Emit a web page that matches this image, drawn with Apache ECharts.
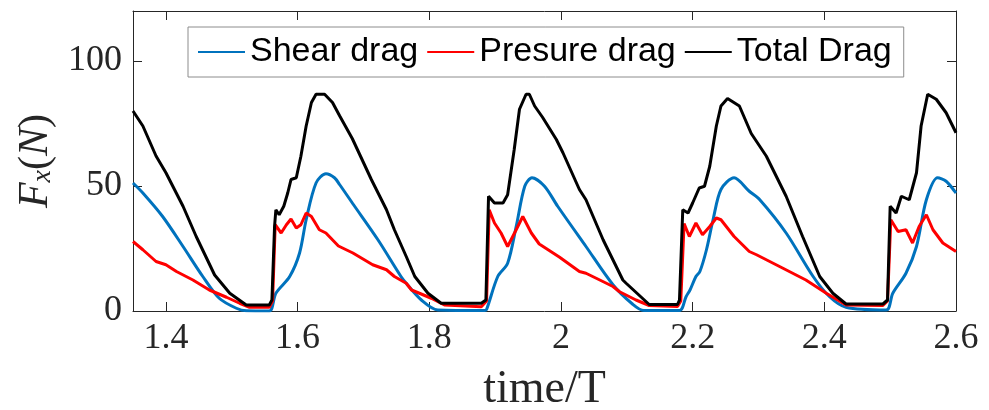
<!DOCTYPE html>
<html>
<head>
<meta charset="utf-8">
<script src="https://cdn.jsdelivr.net/npm/echarts@6/dist/echarts.min.js"></script>
<style>
  html, body { margin: 0; padding: 0; background: #fff; }
  #chart { width: 989px; height: 410px; }
</style>
</head>
<body>
<div id="chart"></div>
<script>
// tick labels (x ticks come from the axis itself: 0.2 steps, 1.4 ... 2.6)
var yTicks = [0, 50, 100];

// Shear drag (time/T, N)
var shearT = [1.350, 1.365, 1.395, 1.426, 1.456, 1.481, 1.507, 1.522, 1.557, 1.567, 1.588, 1.603, 1.613, 1.628, 1.643, 1.656, 1.664, 1.685, 1.722, 1.757, 1.765, 1.788, 1.813, 1.884, 1.887, 1.904, 1.919, 1.932, 1.945, 1.956, 1.975, 1.995, 2.038, 2.079, 2.109, 2.126, 2.180, 2.190, 2.196, 2.205, 2.211, 2.221, 2.231, 2.243, 2.263, 2.286, 2.302, 2.342, 2.383, 2.408, 2.433, 2.494, 2.504, 2.524, 2.540, 2.555, 2.572, 2.585, 2.600];
var shearF = [51.2, 47.2, 37.8, 25.8, 13.8, 5.1, 1.1, 0.1, 0.0, 7.1, 13.8, 23.2, 36.5, 51.2, 54.9, 53.3, 50.5, 42.5, 28.5, 13.8, 11.1, 4.4, 0.4, 0.2, 0.6, 13.8, 19.1, 33.8, 49.9, 53.3, 49.9, 41.9, 25.8, 10.5, 2.7, 0.2, 0.2, 5.7, 8.4, 13.8, 15.8, 24.5, 36.5, 48.6, 53.3, 47.9, 44.5, 31.2, 13.8, 5.7, 1.5, 0.4, 7.1, 15.1, 25.8, 44.5, 53.3, 51.9, 47.2];

// Presure drag
var presT = [1.350, 1.365, 1.385, 1.400, 1.416, 1.441, 1.466, 1.492, 1.512, 1.527, 1.557, 1.562, 1.566, 1.575, 1.583, 1.590, 1.598, 1.605, 1.613, 1.621, 1.633, 1.643, 1.662, 1.684, 1.714, 1.735, 1.747, 1.765, 1.773, 1.785, 1.803, 1.823, 1.879, 1.887, 1.891, 1.899, 1.909, 1.919, 1.932, 1.942, 1.955, 1.967, 1.998, 2.028, 2.038, 2.059, 2.079, 2.089, 2.114, 2.134, 2.177, 2.182, 2.187, 2.195, 2.200, 2.205, 2.215, 2.226, 2.236, 2.243, 2.263, 2.286, 2.297, 2.332, 2.372, 2.403, 2.433, 2.489, 2.496, 2.501, 2.512, 2.524, 2.534, 2.544, 2.555, 2.565, 2.580, 2.600];
var presF = [27.8, 24.5, 19.8, 18.5, 15.8, 12.4, 8.4, 5.5, 3.1, 1.5, 1.5, 4.0, 34.5, 31.2, 34.5, 36.8, 33.2, 34.5, 39.2, 37.8, 32.5, 31.2, 26.0, 23.2, 18.5, 16.5, 13.8, 11.1, 8.4, 7.1, 5.1, 2.4, 1.7, 4.0, 40.5, 35.2, 31.2, 25.8, 32.5, 37.8, 31.2, 26.8, 21.5, 15.8, 15.1, 12.4, 9.8, 7.7, 4.4, 2.2, 1.8, 4.0, 35.0, 29.8, 32.5, 35.2, 30.5, 33.8, 37.2, 36.5, 29.8, 23.8, 22.5, 17.8, 12.4, 7.1, 2.4, 2.2, 4.0, 36.5, 31.8, 32.5, 27.2, 33.8, 38.5, 32.5, 27.2, 23.8];

// Total Drag
var totalT = [1.350, 1.365, 1.385, 1.400, 1.426, 1.446, 1.474, 1.497, 1.522, 1.557, 1.561, 1.565, 1.567, 1.572, 1.579, 1.585, 1.590, 1.598, 1.605, 1.613, 1.621, 1.628, 1.641, 1.653, 1.664, 1.683, 1.712, 1.735, 1.747, 1.765, 1.778, 1.798, 1.818, 1.879, 1.886, 1.890, 1.899, 1.912, 1.919, 1.929, 1.937, 1.947, 1.952, 1.960, 1.972, 1.993, 2.003, 2.028, 2.038, 2.064, 2.069, 2.094, 2.099, 2.134, 2.177, 2.180, 2.185, 2.193, 2.200, 2.210, 2.218, 2.226, 2.236, 2.243, 2.253, 2.271, 2.289, 2.312, 2.342, 2.367, 2.393, 2.413, 2.433, 2.489, 2.496, 2.500, 2.509, 2.517, 2.529, 2.540, 2.547, 2.557, 2.570, 2.585, 2.600];
var totalF = [80.0, 74.0, 62.0, 55.3, 41.9, 29.8, 14.4, 7.1, 2.4, 2.4, 4.4, 33.8, 40.5, 38.5, 41.9, 47.2, 52.6, 53.3, 61.9, 74.0, 83.4, 86.7, 86.7, 83.4, 78.0, 69.0, 52.6, 40.5, 32.5, 21.8, 13.8, 7.1, 3.1, 3.1, 4.4, 45.9, 43.2, 43.2, 46.5, 64.6, 80.7, 86.7, 86.7, 82.0, 77.5, 68.6, 63.3, 48.6, 44.5, 28.5, 25.8, 12.4, 11.1, 2.6, 2.6, 4.4, 40.5, 39.2, 43.2, 49.2, 49.9, 57.9, 74.0, 82.0, 85.0, 82.0, 71.0, 61.9, 45.9, 29.8, 13.8, 7.1, 2.8, 2.8, 4.4, 41.9, 39.2, 45.9, 44.5, 55.3, 74.0, 86.7, 84.7, 79.3, 71.3];

function pairs(t, f) {
  return t.map(function (v, i) { return [v, f[i]]; });
}

var axisColor = '#262626';
var serif = '"Liberation Serif", "DejaVu Serif", serif';

function tickStyle(values) {
  var t = { show: true, inside: true, length: 9, lineStyle: { color: axisColor, width: 1 } };
  if (values) t.customValues = values;
  return t;
}

var chart = echarts.init(document.getElementById('chart'));
chart.setOption({
  animation: false,
  backgroundColor: '#fff',
  grid: { left: 133, right: 33, top: 11, bottom: 99, outerBoundsMode: 'none' },
  legend: {
    left: 188,
    top: 27,
    padding: [8, 12, 8, 10],
    itemGap: 9,
    itemWidth: 47,
    itemHeight: 2,
    icon: 'rect',
    borderColor: '#8c8c8c',
    borderWidth: 1,
    backgroundColor: '#fff',
    textStyle: { fontFamily: '"Liberation Sans", Arial, sans-serif', fontSize: 34, color: '#000' },
    data: ['Shear drag', 'Presure drag', 'Total Drag']
  },
  xAxis: [
    {
      type: 'value',
      min: 1.35,
      max: 2.6,
      splitNumber: 6,
      name: 'time/T',
      nameLocation: 'middle',
      nameGap: 56,
      nameTextStyle: { fontFamily: serif, fontSize: 46, color: axisColor },
      axisLine: { show: true, onZero: false, lineStyle: { color: axisColor, width: 1 } },
      axisTick: tickStyle(),
      axisLabel: {
        showMinLabel: false,
        margin: 10,
        fontFamily: serif,
        fontSize: 36,
        color: axisColor,
        formatter: function (v) { return String(+v.toFixed(1)); }
      },
      splitLine: { show: false }
    },
    {
      type: 'value',
      position: 'top',
      min: 1.35,
      max: 2.6,
      splitNumber: 6,
      axisLine: { show: true, onZero: false, lineStyle: { color: axisColor, width: 1 } },
      axisTick: tickStyle(),
      axisLabel: { show: false },
      splitLine: { show: false }
    }
  ],
  yAxis: [
    {
      type: 'value',
      min: 0,
      max: 120,
      name: '{i|F}{s|x}{n|(}{i|N}{n|)}',
      nameLocation: 'middle',
      nameGap: 76,
      nameTextStyle: {
        color: axisColor,
        rich: {
          i: { fontFamily: serif, fontStyle: 'italic', fontSize: 42, lineHeight: 42, color: axisColor },
          n: { fontFamily: serif, fontSize: 42, lineHeight: 42, color: axisColor },
          s: { fontFamily: serif, fontStyle: 'italic', fontSize: 28, lineHeight: 4, verticalAlign: 'bottom', color: axisColor }
        }
      },
      axisLine: { show: true, lineStyle: { color: axisColor, width: 1 } },
      axisTick: tickStyle(yTicks),
      axisLabel: { customValues: yTicks, margin: 11, fontFamily: serif, fontSize: 36, color: axisColor },
      splitLine: { show: false }
    },
    {
      type: 'value',
      position: 'right',
      min: 0,
      max: 120,
      axisLine: { show: true, lineStyle: { color: axisColor, width: 1 } },
      axisTick: tickStyle(yTicks),
      axisLabel: { show: false, customValues: yTicks },
      splitLine: { show: false }
    }
  ],
  series: [
    {
      name: 'Shear drag',
      type: 'line',
      showSymbol: false,
      smooth: 0.3,
      color: '#0072BD',
      lineStyle: { width: 3, color: '#0072BD' },
      data: pairs(shearT, shearF)
    },
    {
      name: 'Presure drag',
      type: 'line',
      showSymbol: false,
      color: '#FF0000',
      lineStyle: { width: 3, color: '#FF0000' },
      data: pairs(presT, presF)
    },
    {
      name: 'Total Drag',
      type: 'line',
      showSymbol: false,
      color: '#000000',
      lineStyle: { width: 3, color: '#000000' },
      data: pairs(totalT, totalF)
    }
  ]
});
</script>
</body>
</html>
